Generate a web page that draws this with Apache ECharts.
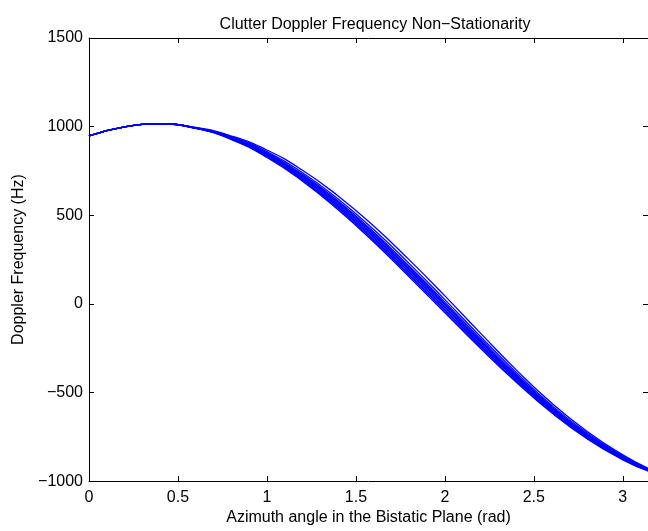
<!DOCTYPE html>
<html>
<head>
<meta charset="utf-8">
<script src="https://cdn.jsdelivr.net/npm/echarts@6/dist/echarts.min.js"></script>
<style>
  html, body { margin: 0; padding: 0; background: #fff; }
  #chart { width: 648px; height: 531px; }
</style>
</head>
<body>
<div id="chart"></div>
<script>
// azimuth samples (rad)
var theta = [0, 0.2, 0.4, 0.6, 0.8, 1.0, 1.2, 1.4, 1.6, 1.8, 2.0, 2.2, 2.4, 2.6, 2.8, 3.0, 3.1416]

// doppler curves (Hz), lowest to highest
var fd1 = [948, 999, 1015, 990, 927, 826, 692, 531, 349, 152, -50, -251, -441, -615, -762, -880, -943]
var fd2 = [948, 999, 1015, 990, 929, 830, 698, 538, 357, 161, -41, -243, -435, -610, -758, -877, -942]
var fd3 = [948, 999, 1015, 991, 931, 834, 703, 545, 365, 169, -33, -236, -428, -605, -754, -875, -940]
var fd4 = [948, 999, 1015, 991, 932, 837, 709, 552, 373, 178, -24, -228, -422, -600, -751, -872, -939]
var fd5 = [948, 999, 1015, 992, 934, 841, 714, 559, 381, 187, -16, -220, -416, -595, -747, -870, -938]
var fd6 = [948, 999, 1015, 992, 936, 845, 720, 566, 390, 195, -7, -212, -410, -590, -743, -867, -936]
var fd7 = [948, 999, 1015, 993, 938, 849, 725, 573, 398, 204, 1, -205, -403, -585, -739, -865, -935]
var fd8 = [948, 999, 1015, 993, 940, 852, 731, 580, 406, 212, 10, -197, -397, -580, -736, -862, -934]
var fd9 = [948, 999, 1015, 994, 943, 859, 740, 592, 419, 227, 24, -184, -386, -572, -729, -858, -931]
var fd10 = [948, 999, 1015, 995, 947, 868, 754, 609, 439, 248, 45, -165, -371, -560, -720, -852, -928]

var curves = [fd1, fd2, fd3, fd4, fd5, fd6, fd7, fd8, fd9, fd10]

var font = 'Liberation Sans, Arial, Helvetica, sans-serif'
var myChart = echarts.init(document.getElementById('chart'))

var series = curves.map(function(c, k) {
  return {
    name: 'range ' + (k + 1),
    type: 'line',
    xAxisIndex: 0,
    yAxisIndex: 0,
    symbol: 'none',
    smooth: true,
    lineStyle: { color: '#0000ff', width: 1.3 },
    data: theta.map(function(t, i) { return [t, c[i]] })
  }
})

var minus = function(v) { return String(v).replace('-', '\u2212') }

myChart.setOption({
  animation: false,
  backgroundColor: '#fff',
  title: {
    text: 'Clutter Doppler Frequency Non\u2212Stationarity',
    left: 370,
    top: 12,
    textAlign: 'center',
    textStyle: { fontFamily: font, fontSize: 16, fontWeight: 'normal', color: '#000' }
  },
  grid: { left: 89, top: 38, width: 562, height: 444 },
  xAxis: [
    {
      type: 'value',
      min: 0,
      max: 3.14159,
      interval: 0.5,
      name: 'Azimuth angle in the Bistatic Plane (rad)',
      nameLocation: 'middle',
      nameGap: 26,
      nameTextStyle: { fontFamily: font, fontSize: 16, color: '#000' },
      axisLine: { show: true, onZero: false, lineStyle: { color: '#000', width: 1 } },
      axisTick: { inside: true, length: 5, lineStyle: { color: '#000' } },
      axisLabel: { showMaxLabel: false, margin: 8, fontFamily: font, fontSize: 16, color: '#000' },
      splitLine: { show: false }
    },
    {
      type: 'value',
      position: 'top',
      min: 0,
      max: 3.14159,
      interval: 0.5,
      axisLine: { show: true, onZero: false, lineStyle: { color: '#000', width: 1 } },
      axisTick: { inside: true, length: 5, lineStyle: { color: '#000' } },
      axisLabel: { show: false },
      splitLine: { show: false }
    }
  ],
  yAxis: [
    {
      type: 'value',
      min: -1000,
      max: 1500,
      interval: 500,
      name: 'Doppler Frequency (Hz)',
      nameLocation: 'middle',
      nameGap: 62,
      nameTextStyle: { fontFamily: font, fontSize: 16, color: '#000' },
      axisLine: { show: true, onZero: false, lineStyle: { color: '#000', width: 1 } },
      axisTick: { inside: true, length: 5, lineStyle: { color: '#000' } },
      axisLabel: { margin: 6, fontFamily: font, fontSize: 16, color: '#000', formatter: minus },
      splitLine: { show: false }
    },
    {
      type: 'value',
      position: 'right',
      min: -1000,
      max: 1500,
      interval: 500,
      axisLine: { show: true, onZero: false, lineStyle: { color: '#000', width: 1 } },
      axisTick: { inside: true, length: 5, lineStyle: { color: '#000' } },
      axisLabel: { show: false },
      splitLine: { show: false }
    }
  ],
  series: series
})
</script>
</body>
</html>
